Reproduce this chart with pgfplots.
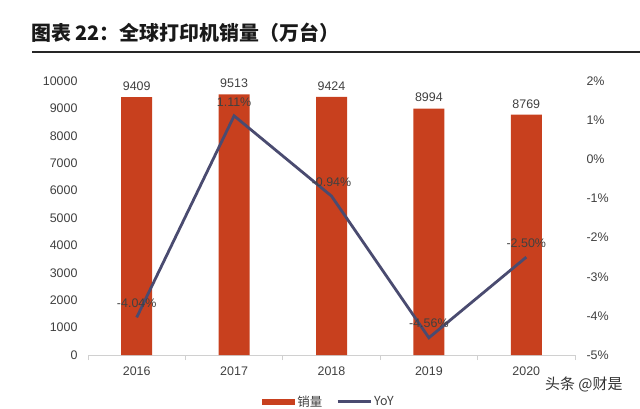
\documentclass[border=0pt]{standalone}
\usepackage{pgfplots}
\pgfplotsset{compat=1.18}
\usepackage{fontspec}
\setmainfont{Liberation Sans}
\newfontfamily\cjk{Noto Sans CJK SC}
\definecolor{barred}{HTML}{C8401E}
\definecolor{linenavy}{HTML}{4A4B70}
\definecolor{txt}{HTML}{404040}
\definecolor{axgray}{HTML}{D0D0D0}
\begin{document}
\begin{tikzpicture}
\path[use as bounding box] (0bp,0bp) rectangle (640bp,409bp);
% title
\node[anchor=west, font=\cjk\bfseries\fontsize{20}{22}\selectfont, text=black!90, inner sep=0pt] at (31bp,376bp) {图表 22：全球打印机销量（万台）};
\draw[black!85, line width=1.6bp] (32bp,357bp) -- (640bp,357bp);
% bars
\begin{axis}[
    at={(88bp,54bp)}, anchor=south west,
    width=487bp, height=274bp, scale only axis,
    xmin=-0.5, xmax=4.5, ymin=0, ymax=10000,
    xtick={0,1,2,3,4},
    xticklabels={2016,2017,2018,2019,2020},
    minor xtick={-0.5,0.5,1.5,2.5,3.5,4.5},
    ytick={0,1000,...,10000},
    scaled y ticks=false,
    axis x line*=bottom, axis y line*=left,
    y axis line style={draw=none},
    x axis line style={draw=axgray, line width=1bp},
    major tick length=0pt,
    minor tick length=5bp,
    minor tick style={draw=axgray, line width=0.8bp},
    xtick align=outside,
    tick label style={font=\fontsize{12.5}{14}\selectfont, text=txt},
    /pgf/number format/1000 sep={},
    /pgf/number format/assume math mode=true,
    yticklabel style={xshift=-7bp},
    xticklabel style={yshift=-8bp},
    ybar, bar width=31bp,
    nodes near coords,
    nodes near coords style={font=\fontsize{12.5}{14}\selectfont, text=txt, yshift=3bp,
        /pgf/number format/1000 sep={}},
    clip=false,
]
\addplot[fill=barred, draw=none] coordinates {
    (0,9409) (1,9513) (2,9424) (3,8994) (4,8769)
};
\end{axis}
% YoY line
\begin{axis}[
    at={(88bp,54bp)}, anchor=south west,
    width=487bp, height=274bp, scale only axis,
    xmin=-0.5, xmax=4.5, ymin=-5, ymax=2,
    axis x line=none, axis y line*=right,
    y axis line style={draw=none},
    major tick length=0pt,
    ytick={-5,-4,-3,-2,-1,0,1,2},
    yticklabels={-5\%,-4\%,-3\%,-2\%,-1\%,0\%,1\%,2\%},
    tick label style={font=\fontsize{12.5}{14}\selectfont, text=txt},
    yticklabel style={xshift=8bp},
    clip=false,
    legend style={at={(0.495,-0.17)}, anchor=center, draw=none, fill=none,
        legend columns=2, font=\cjk\fontsize{12.5}{14}\selectfont, text=txt,
        /tikz/every even column/.append style={column sep=12bp}},
    legend cell align=left,
]
\addlegendimage{area legend, fill=barred, draw=none,
    legend image code/.code={\fill[barred] (0bp,-3bp) rectangle (33bp,3bp);}}
\addlegendentry{销量}
\addplot[linenavy, line width=2.8bp, mark=none,
    point meta=explicit symbolic,
    nodes near coords,
    nodes near coords style={font=\fontsize{12.5}{14}\selectfont, text=txt, yshift=5bp},
    legend image code/.code={\draw[linenavy, line width=2.8bp] (0bp,0bp) -- (33bp,0bp);}]
  coordinates {
    (0,-4.04) [-4.04\%]
    (1,1.11) [1.11\%]
    (2,-0.94) [-0.94\%]
    (3,-4.56) [-4.56\%]
    (4,-2.50) [-2.50\%]
};
\addlegendentry{YoY}
\end{axis}
% watermark
\node[anchor=west, font=\cjk\fontsize{15}{17}\selectfont, text=black!80, inner sep=0pt] at (545bp,24bp) {头条 @财是};
\end{tikzpicture}
\end{document}
